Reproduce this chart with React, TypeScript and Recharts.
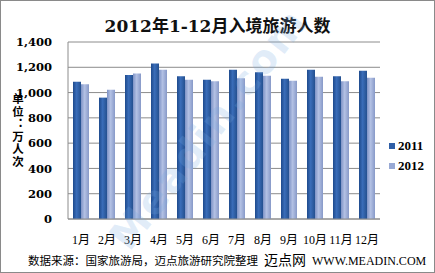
import React from 'react';
import { BarChart, Bar, XAxis, YAxis, CartesianGrid } from 'recharts';

const months = ['1月', '2月', '3月', '4月', '5月', '6月', '7月', '8月', '9月', '10月', '11月', '12月'];
const values2011 = [1086, 960, 1139, 1229, 1129, 1102, 1181, 1160, 1110, 1181, 1129, 1173];
const values2012 = [1065, 1023, 1150, 1181, 1102, 1089, 1113, 1134, 1094, 1126, 1089, 1118];
const yTicks = [0, 200, 400, 600, 800, 1000, 1200, 1400];
const seriesNames = ['2011', '2012'];

const data = months.map((m, i) => ({ month: m, y2011: values2011[i], y2012: values2012[i] }));

const serif = '"Liberation Serif", "DejaVu Serif", serif';
const dserif = '"DejaVu Serif", serif';
const cjk = '"Noto Sans CJK SC", sans-serif';

const fmt = (v: number) => (v >= 1000 ? `${Math.floor(v / 1000)},${String(v % 1000).padStart(3, '0')}` : String(v));

const legendColors = ['#2F5FA6', '#98A9D4'];

export default function App() {
  return (
    <div style={{ position: 'absolute', left: 0, top: 0, width: 435, height: 273, background: '#fff', overflow: 'hidden' }}>
      <div style={{ position: 'absolute', left: 0, top: 0, width: 433, height: 271, border: '1px solid #8a8a8a' }} />
      <div
        style={{
          position: 'absolute',
          left: 0,
          width: 435,
          top: 12,
          textAlign: 'center',
          fontFamily: `${dserif}, ${cjk}`,
          fontWeight: 'bold',
          fontSize: 17,
          color: '#111',
        }}
      >
        2012年1-12月入境旅游人数
      </div>
      <div
        style={{
          position: 'absolute',
          left: 11,
          top: 93,
          fontFamily: cjk,
          fontWeight: 'bold',
          fontSize: 11.5,
          lineHeight: '14px',
          letterSpacing: 1,
          color: '#000',
          writingMode: 'vertical-rl',
          textOrientation: 'upright',
          whiteSpace: 'nowrap',
        }}
      >
        单位：万人次
      </div>
      <BarChart
        width={435}
        height={273}
        data={data}
        margin={{ top: 42, right: 55, left: 0, bottom: 14 }}
        barGap={0}
        barSize={8}
        style={{ position: 'absolute', left: 0, top: 0 }}
      >
        <defs>
          <linearGradient id="g2011" x1="0" y1="0" x2="1" y2="0">
            <stop offset="0%" stopColor="#1E4A8C" />
            <stop offset="45%" stopColor="#3A6DB9" />
            <stop offset="100%" stopColor="#24508F" />
          </linearGradient>
          <linearGradient id="g2012" x1="0" y1="0" x2="1" y2="0">
            <stop offset="0%" stopColor="#7E93C6" />
            <stop offset="45%" stopColor="#B3C1E4" />
            <stop offset="100%" stopColor="#8799C8" />
          </linearGradient>
        </defs>
        <CartesianGrid vertical={false} stroke="#8c8c8c" strokeWidth={1} />
        <XAxis
          dataKey="month"
          tickLine={false}
          axisLine={{ stroke: '#8c8c8c' }}
          tick={{ fontFamily: `${serif}, ${cjk}`, fontSize: 12, fill: '#000' }}
          tickMargin={10}
          interval={0}
          height={40}
        />
        <YAxis
          domain={[0, 1400]}
          ticks={yTicks}
          tickFormatter={fmt}
          tickLine={false}
          axisLine={{ stroke: '#8c8c8c' }}
          tick={{ fontFamily: dserif, fontWeight: 'bold', fontSize: 11.5, fill: '#000' }}
          tickMargin={10}
          width={68}
          interval={0}
        />
        <Bar dataKey="y2011" name={seriesNames[0]} fill="url(#g2011)" isAnimationActive={false} />
        <Bar dataKey="y2012" name={seriesNames[1]} fill="url(#g2012)" isAnimationActive={false} />
      </BarChart>
      <div
        style={{
          position: 'absolute',
          left: 389,
          top: 136,
          fontFamily: serif,
          fontWeight: 'bold',
          fontSize: 13,
          color: '#000',
        }}
      >
        {seriesNames.map((t, i) => (
          <div key={t} style={{ display: 'flex', alignItems: 'center', height: 20 }}>
            <span style={{ display: 'inline-block', width: 6, height: 6, background: legendColors[i], marginRight: 3 }} />
            <span>{t}</span>
          </div>
        ))}
      </div>
      <div
        style={{
          position: 'absolute',
          left: 100,
          top: 230,
          transform: 'rotate(-52deg)',
          transformOrigin: 'left top',
          fontFamily: '"DejaVu Sans", sans-serif',
          fontWeight: 'bold',
          fontSize: 40,
          letterSpacing: 2,
          color: 'rgba(120,170,225,0.22)',
          pointerEvents: 'none',
          whiteSpace: 'nowrap',
        }}
      >
        Meadin.com
      </div>
      <div
        style={{
          position: 'absolute',
          left: 28,
          top: 249,
          whiteSpace: 'nowrap',
          color: '#000',
          display: 'flex',
          alignItems: 'baseline',
        }}
      >
        <span style={{ fontFamily: cjk, fontSize: 11.5 }}>数据来源：国家旅游局，迈点旅游研究院整理</span>
        <span style={{ fontFamily: cjk, fontSize: 14, marginLeft: 6 }}>迈点网</span>
        <span style={{ fontFamily: serif, fontSize: 12, marginLeft: 6 }}>WWW.MEADIN.COM</span>
      </div>
    </div>
  );
}
